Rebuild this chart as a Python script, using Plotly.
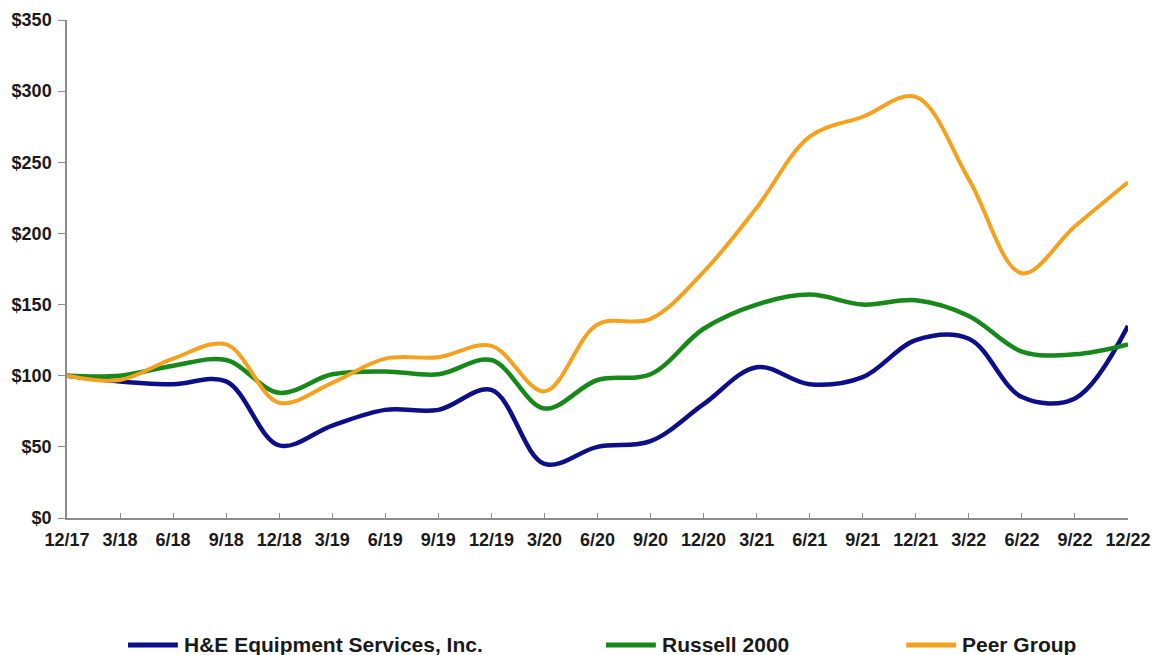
import plotly.graph_objects as go

quarters = ["12/17", "3/18", "6/18", "9/18", "12/18", "3/19", "6/19", "9/19", "12/19", "3/20",
            "6/20", "9/20", "12/20", "3/21", "6/21", "9/21", "12/21", "3/22", "6/22", "9/22", "12/22"]

he_equipment = [100, 96, 94, 96, 51, 65, 76, 76, 90, 38, 50, 54, 80, 106, 94, 99, 125, 126, 85, 84, 135]
russell_2000 = [100, 100, 107, 111, 88, 101, 103, 101, 111, 77, 97, 101, 133, 150, 157, 150, 153, 142, 117, 115, 122]
peer_group = [100, 97, 112, 122, 81, 95, 112, 113, 121, 89, 136, 140, 173, 218, 268, 282, 296, 238, 172, 205, 236]

y_ticks = [0, 50, 100, 150, 200, 250, 300, 350]
y_tick_labels = ["$0", "$50", "$100", "$150", "$200", "$250", "$300", "$350"]

series_names = ["H&E Equipment Services, Inc.", "Russell 2000", "Peer Group"]
series_values = [he_equipment, russell_2000, peer_group]
series_colors = ["#0c0f87", "#17891a", "#f6a11e"]
series_widths = [4.5, 4.5, 4]

# legend placement (paper coordinates)
legend_line_x0 = [0.0575, 0.508, 0.791]
legend_line_len = 0.047
legend_y = -0.255

x_idx = list(range(len(quarters)))
fig = go.Figure()
for name, vals, col, w in zip(series_names, series_values, series_colors, series_widths):
    fig.add_trace(go.Scatter(
        x=x_idx, y=vals, name=name, mode="lines",
        line=dict(color=col, width=w, shape="spline", smoothing=1.0),
        showlegend=False,
    ))

font_family = "Liberation Sans, Arial, sans-serif"
text_color = "#1a1a1a"

for name, col, lx in zip(series_names, series_colors, legend_line_x0):
    fig.add_shape(type="line", xref="paper", yref="paper",
                  x0=lx, x1=lx + legend_line_len, y0=legend_y, y1=legend_y,
                  line=dict(color=col, width=5))
    fig.add_annotation(xref="paper", yref="paper", x=lx + legend_line_len + 0.004, y=legend_y,
                       text=name, showarrow=False, xanchor="left", yanchor="middle",
                       font=dict(family=font_family, size=21, color=text_color, weight="bold"))

fig.update_layout(
    width=1158, height=655,
    margin=dict(l=67, r=30, t=20, b=137),
    paper_bgcolor="white", plot_bgcolor="white",
    font=dict(family=font_family, color=text_color),
    showlegend=False,
)
fig.update_xaxes(
    range=[0, len(quarters) - 1], automargin=False,
    tickmode="array", tickvals=x_idx, ticktext=quarters,
    ticks="inside", ticklen=5, tickcolor="#8c8c8c", ticklabelstandoff=5,
    showline=True, linecolor="#8c8c8c", linewidth=1.5,
    showgrid=False, zeroline=False,
    tickfont=dict(family=font_family, size=18, color=text_color, weight="bold"),
)
fig.update_yaxes(
    range=[0, 350], automargin=False, tickmode="array", tickvals=y_ticks, ticktext=y_tick_labels,
    ticks="outside", ticklen=7, tickcolor="#8c8c8c", ticklabelstandoff=3,
    showline=True, linecolor="#8c8c8c", linewidth=1.5,
    showgrid=False, zeroline=False,
    tickfont=dict(family=font_family, size=18, color=text_color, weight="bold"),
)
fig.write_html("out.html")
